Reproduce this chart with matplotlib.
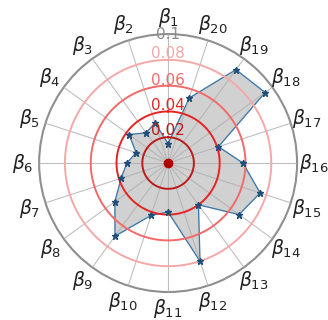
import numpy as np
import matplotlib
import matplotlib.pyplot as plt

matplotlib.use('agg')

labels = [r'$\beta_{%d}$' % i for i in range(1, 21)]
values = [0.015, 0.0326, 0.029, 0.0375, 0.026, 0.032, 0.0383, 0.051, 0.070, 0.0427,
          0.038, 0.080, 0.040, 0.068, 0.075, 0.058, 0.041, 0.093, 0.0895, 0.053]
ring_levels = [0.02, 0.04, 0.06, 0.08]
ring_colors = ['#bf1a1a', '#e52424', '#f26a6a', '#f5a8a8']
ring_label_r = [0.0256, 0.0450, 0.0643, 0.0853]

theta = np.linspace(0, 2 * np.pi, len(values), endpoint=False)
theta_closed = np.append(theta, theta[0])
vals_closed = np.append(values, values[0])

fig = plt.figure(figsize=(3.28, 3.20), dpi=100)
ax = fig.add_axes([0.119, 0.0875, 0.787, 0.806], projection='polar')
ax.set_theta_offset(np.pi / 2)
ax.set_theta_direction(1)
ax.set_ylim(0, 0.1)

# data polygon
ax.fill(theta_closed, vals_closed, color='#cccccc', alpha=0.9, zorder=1)
ax.plot(theta_closed, vals_closed, color='#3a78a8', lw=0.9, zorder=2)
ax.plot(theta, values, ls='none', marker='*', ms=4.5, color='#1f4e79', zorder=5)

# spokes and rings
ax.set_xticks(theta)
ax.set_xticklabels(labels, fontsize=13.5, color='#222222')
ax.tick_params(axis='x', pad=1.5)
ax.xaxis.grid(True, color='#b0b0b0', lw=0.8, alpha=0.8, zorder=3)
ax.set_axisbelow(False)
ax.set_yticks([])
ax.yaxis.grid(False)

full = np.linspace(0, 2 * np.pi, 300)
for lev, col in zip(ring_levels, ring_colors):
    ax.plot(full, np.full_like(full, lev), color=col, lw=1.4, zorder=4)

for lev, col, rr in zip(ring_levels, ring_colors, ring_label_r):
    ax.text(0, rr, str(lev), color=col, fontsize=11, ha='center', va='center', zorder=6)
ax.text(0, 0.0995, '0.1', color='#8c8c8c', fontsize=11, ha='center', va='center', zorder=6)

ax.plot([0], [0], marker='o', ms=6, color='#b00000', zorder=7)

ax.spines['polar'].set_color('#8f8f8f')
ax.spines['polar'].set_linewidth(1.5)

fig.savefig('out.png', dpi=100)
